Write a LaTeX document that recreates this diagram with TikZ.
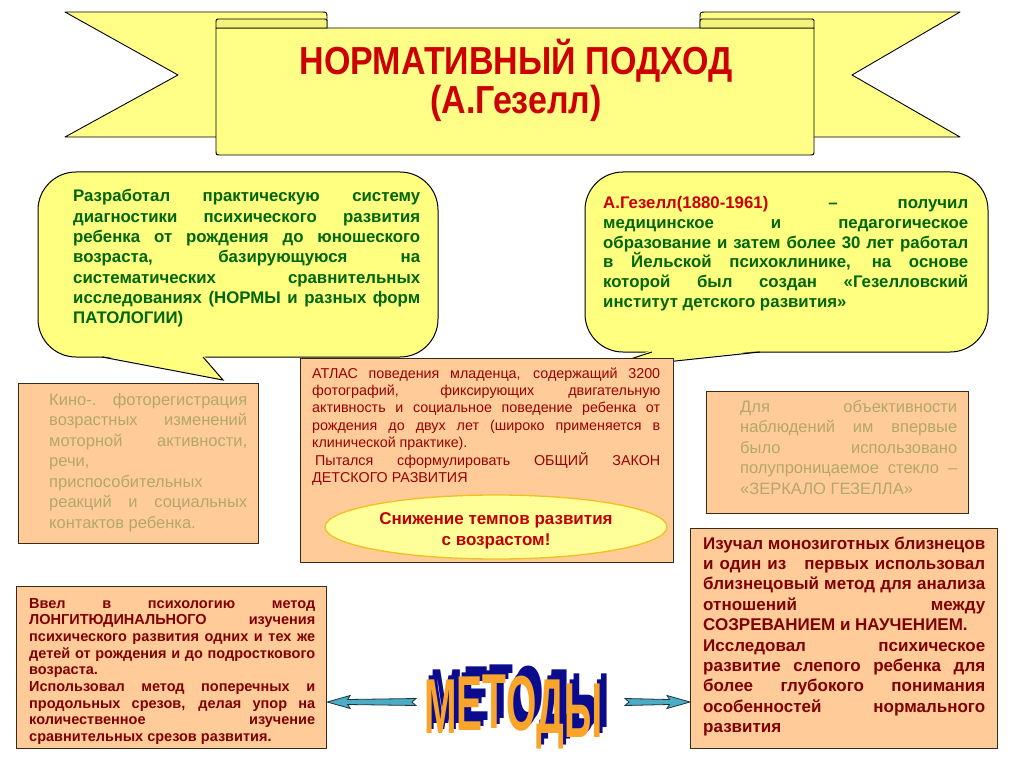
\documentclass[tikz,border=0pt]{standalone}
\usepackage{fontspec}
\setmainfont{Liberation Sans}
\usepackage{pdfrender}
\usetikzlibrary{calc,shapes.geometric}
\definecolor{ribbonY}{HTML}{FFFF88}
\definecolor{rollY}{HTML}{F4F47C}
\definecolor{callY}{HTML}{FFFF80}
\definecolor{peachC}{HTML}{FFCC99}
\definecolor{boxLine}{HTML}{3A2A1A}
\definecolor{titleRed}{HTML}{CC0000}
\definecolor{greenT}{HTML}{006600}
\definecolor{darkRed}{HTML}{800000}
\definecolor{midRed}{HTML}{990000}
\definecolor{oliveT}{HTML}{B3A76B}
\definecolor{ellY}{HTML}{FFFF99}
\definecolor{ellLine}{HTML}{F0C020}
\definecolor{ellRed}{HTML}{C00000}
\definecolor{orangeM}{HTML}{F9A52C}
\definecolor{blueM}{HTML}{0B0B8E}
\definecolor{arrTeal}{HTML}{4BACC6}
\definecolor{arrLine}{HTML}{1A3540}
\newcommand{\jl}[1]{\makebox[\linewidth][s]{#1}\\}
\newcommand{\waword}{\scalebox{0.5}[1]{\raisebox{0pt}{М}\raisebox{3pt}{Е}\raisebox{5pt}{Т}\raisebox{3pt}{О}\raisebox{0pt}{Д}\raisebox{-4pt}{Ы}}}
\tikzset{
  rib/.style={fill=ribbonY, draw=black, line width=0.9pt, line join=round},
  rollst/.style={fill=rollY, draw=black, line width=0.9pt, line join=round},
  callout/.style={fill=callY, draw=black, line width=1pt},
  pbox/.style={draw=boxLine, fill=peachC, line width=1.2pt, inner sep=0pt, anchor=north west},
  txt/.style={inner sep=0pt, anchor=base west},
  titlest/.style={inner sep=0pt, anchor=base, text=titleRed, font=\fontsize{34}{40}\selectfont\bfseries},
  arr/.style={fill=arrTeal, draw=arrLine, line width=0.8pt, line join=miter},
  wa/.style={anchor=base west, inner sep=0pt, font=\fontsize{78}{78}\selectfont\bfseries},
}
\begin{document}
\begin{tikzpicture}[x=1pt,y=-1pt]
\useasboundingbox (0,0) rectangle (1024,767);
\fill[white] (0,0) rectangle (1024,767);

% ---------- ribbon banner ----------
\draw[rib] (65,12) -- (321,12) .. controls (327,12) .. (327,18) -- (327,137) -- (65,137) -- (178,75) -- cycle;
\draw[rib] (960,12) -- (706,12) .. controls (700,12) .. (700,18) -- (700,137) -- (960,137) -- (852,75) -- cycle;
\draw[rib] (216,28) -- (216,150) .. controls (216,155) .. (221,155) -- (809,155) .. controls (814,155) .. (814,150) -- (814,28) -- cycle;
\draw[rollst] (216,28) -- (216,23) .. controls (216,19) .. (220,19) -- (323,19) .. controls (327,19) .. (327,23) -- (327,28) -- cycle;
\draw[rollst] (700,28) -- (700,23) .. controls (700,19) .. (704,19) -- (810,19) .. controls (814,19) .. (814,23) -- (814,28) -- cycle;
\node[titlest] (t1) at (516,75) {\scalebox{1}[1.15]{НОРМАТИВНЫЙ ПОДХОД}};
\node[titlest] (t2) at (516,114) {\scalebox{1}[1.15]{(А.Гезелл)}};

% ---------- callouts ----------
\filldraw[callout, rounded corners=38pt] (38,172) rectangle (438,357);
\fill[callY] (101,355.6) -- (223,380) -- (204,355.6) -- cycle;
\draw[callout, fill=none, line join=miter] (102,357) -- (223,380) -- (203,357);
\node[txt, text=greenT, font=\fontsize{16.8}{20.3}\selectfont\bfseries] (lc) at (73,202) {\parbox[t]{347pt}{%
\jl{Разработал практическую систему}
\jl{диагностики психического развития}
\jl{ребенка от рождения до юношеского}
\jl{возраста, базирующуюся на}
\jl{систематических сравнительных}
\jl{исследованиях (НОРМЫ и разных форм}
ПАТОЛОГИИ)}};

\filldraw[callout, rounded corners=38pt] (585,172) rectangle (988,352);
\fill[callY] (651,350.6) -- (600,369) -- (761,350.6) -- cycle;
\draw[callout, fill=none, line join=miter] (652,352) -- (600,369) -- (760,352);
\node[txt, text=greenT, font=\fontsize{16.8}{19.6}\selectfont\bfseries] (rc) at (603,209) {\parbox[t]{365pt}{%
\jl{\textcolor{titleRed}{А.Гезелл(1880-1961)} – получил}
\jl{медицинское и педагогическое}
\jl{образование и затем более 30 лет работал}
\jl{в Йельской психоклинике, на основе}
\jl{которой был создан «Гезелловский}
институт детского развития»}};

% ---------- middle row boxes ----------
\node[pbox, minimum width=240pt, minimum height=160pt] (kb) at (18,383) {};
\node[txt, text=oliveT, font=\fontsize{16.5}{20.5}\selectfont] (kt) at (49,405) {\parbox[t]{198pt}{%
\jl{Кино-. фоторегистрация}
\jl{возрастных изменений}
\jl{моторной активности,}
речи,\\
приспособительных\\
\jl{реакций и социальных}
контактов ребенка.}};

\node[pbox, minimum width=373pt, minimum height=204pt] (cb) at (300,358) {};
\node[txt, text=midRed, font=\fontsize{14.3}{17.4}\selectfont] (ct) at (312,378) {\parbox[t]{348pt}{%
\jl{АТЛАС поведения младенца, содержащий 3200}
\jl{фотографий, фиксирующих двигательную}
\jl{активность и социальное поведение ребенка от}
\jl{рождения до двух лет (широко применяется в}
клинической практике).\\
\jl{\hspace{3pt}Пытался сформулировать ОБЩИЙ ЗАКОН}
ДЕТСКОГО РАЗВИТИЯ}};
\node[ellipse, draw=ellLine, fill=ellY, line width=1.3pt, minimum width=342pt, minimum height=64pt, inner sep=0pt] (el) at (496,527) {};
\node[inner sep=0pt, align=center, text=ellRed, font=\fontsize{17}{20.5}\selectfont\bfseries] (et) at (496,531) {Снижение темпов развития\\с возрастом!};

\node[pbox, minimum width=262pt, minimum height=122pt] (rb) at (706,391) {};
\node[txt, text=oliveT, font=\fontsize{16.5}{20.5}\selectfont] (rt) at (740,412) {\parbox[t]{217pt}{%
\jl{Для объективности}
\jl{наблюдений им впервые}
\jl{было использовано}
\jl{полупроницаемое стекло –}
«ЗЕРКАЛО ГЕЗЕЛЛА»}};

% ---------- bottom boxes ----------
\node[pbox, minimum width=310pt, minimum height=162pt] (bl) at (16,586) {};
\node[txt, text=darkRed, font=\fontsize{14.5}{16.7}\selectfont\bfseries] (blt) at (29,608) {\parbox[t]{286pt}{%
\jl{Ввел в психологию метод}
\jl{ЛОНГИТЮДИНАЛЬНОГО изучения}
\jl{психического развития одних и тех же}
\jl{детей от рождения и до подросткового}
возраста.\\
\jl{Использовал метод поперечных и}
\jl{продольных срезов, делая упор на}
\jl{количественное изучение}
сравнительных срезов развития.}};

\node[pbox, minimum width=307pt, minimum height=220pt] (br) at (690,528) {};
\node[txt, text=darkRed, font=\fontsize{17}{20.4}\selectfont\bfseries] (brt) at (703,549) {\parbox[t]{282pt}{%
\jl{Изучал монозиготных близнецов}
\jl{и один из\hspace{12pt} первых использовал}
\jl{близнецовый метод для анализа}
\jl{отношений между}
СОЗРЕВАНИЕМ и НАУЧЕНИЕМ.\\
\jl{Исследовал психическое}
\jl{развитие слепого ребенка для}
\jl{более глубокого понимания}
\jl{особенностей нормального}
развития}};

% ---------- word art ----------
\node[wa, text=blueM] (mx2) at (424+6.5,733-10) {\textpdfrender{TextRenderingMode=FillStroke,LineWidth=5.5pt,StrokeColor=blueM,LineJoinStyle=1}{\waword}};
\node[wa, text=blueM] (mx1) at (424+2.6,733-4) {\textpdfrender{TextRenderingMode=FillStroke,LineWidth=5.5pt,StrokeColor=blueM,LineJoinStyle=1}{\waword}};
\node[wa, text=orangeM] (metody) at (424,733) {\textpdfrender{TextRenderingMode=FillStroke,LineWidth=1.1pt,StrokeColor=blueM}{\waword}};

% ---------- arrows ----------
\coordinate (lat) at (bl.east |- 0,702);
\coordinate (las) at (416,702);
\coordinate (rat) at (br.west |- 0,702);
\coordinate (ras) at (625,702);
\draw[arr] (lat) -- ($(lat)+(23,-6.5)$) -- ($(lat)+(20.5,-2.5)$) -- ($(las)+(0,-3.5)$) -- ($(las)+(-4,0)$) -- ($(las)+(0,3.5)$) -- ($(lat)+(20.5,2.5)$) -- ($(lat)+(23,6.5)$) -- cycle;
\draw[arr] (rat) -- ($(rat)+(-23,-6.5)$) -- ($(rat)+(-20.5,-2.5)$) -- ($(ras)+(0,-3.5)$) -- ($(ras)+(4,0)$) -- ($(ras)+(0,3.5)$) -- ($(rat)+(-20.5,2.5)$) -- ($(rat)+(-23,6.5)$) -- cycle;
\end{tikzpicture}
\end{document}
